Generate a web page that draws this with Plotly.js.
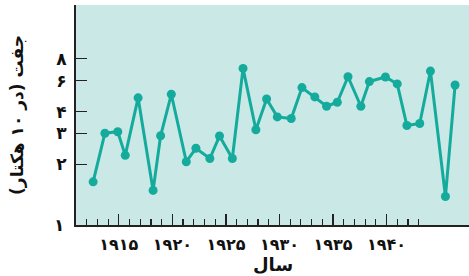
<!DOCTYPE html>
<html>
<head>
<meta charset="utf-8">
<script src="https://cdn.plot.ly/plotly-3.0.1.min.js"></script>
<style>html,body{margin:0;padding:0;background:#fff;}#chart{width:469px;height:276px;}</style>
</head>
<body>
<div id="chart"></div>
<script>
// Data (x positions as drawn, in years)
const years = [1912.6, 1913.7, 1914.9, 1915.6, 1916.8, 1918.2, 1918.9, 1919.9, 1921.3, 1922.2,
               1923.5, 1924.4, 1925.6, 1926.6, 1927.8, 1928.8, 1929.8, 1931.1, 1932.1, 1933.3,
               1934.4, 1935.4, 1936.4, 1937.6, 1938.4, 1939.9, 1941.0, 1941.9, 1943.1, 1944.1,
               1945.5, 1946.4];
const pairs = [1.59, 3.01, 3.07, 2.25, 4.79, 1.42, 2.91, 5.02, 2.07, 2.47,
               2.16, 2.90, 2.16, 7.05, 3.15, 4.72, 3.73, 3.65, 5.48, 4.85,
               4.29, 4.52, 6.32, 4.29, 5.93, 6.30, 5.75, 3.33, 3.42, 6.81,
               1.31, 5.67];
const xTickVals = [1915, 1920, 1925, 1930, 1935, 1940];
const xTickText = ['۱۹۱۵', '۱۹۲۰', '۱۹۲۵', '۱۹۳۰', '۱۹۳۵', '۱۹۴۰'];
const xMinorVals = [1912,1913,1914,1916,1917,1918,1919,1921,1922,1923,1924,1926,1927,1928,1929,
                    1931,1932,1933,1934,1936,1937,1938,1939,1941,1942,1943];
const yTickVals = [2, 3, 4, 6, 8];
const yTickText = ['۲', '۳', '۴', '۶', '۸'];
const yBaseLabel = '۱';
const xTitle = 'سال';
const yTitle = '\u200Fجفت (در ۱۰ هکتار)\u200F';

const teal = '#14ab9d';
const font = 'DejaVu Sans, sans-serif';

const trace = {
  x: years, y: pairs, type: 'scatter', mode: 'lines+markers',
  line: {color: teal, width: 3},
  marker: {color: teal, size: 9},
  hoverinfo: 'none'
};

const tf = {family: font, size: 17, color: '#111', weight: 'bold'};
const xtf = {family: font, size: 16, color: '#111', weight: 'bold'};

const layout = {
  width: 469, height: 276,
  margin: {l: 76, r: 0, t: 5, b: 51, pad: 0},
  paper_bgcolor: '#ffffff',
  plot_bgcolor: '#cae8e6',
  showlegend: false,
  font: {family: font, color: '#111', size: 14},
  xaxis: {
    range: [1911.0, 1947.7],
    tickmode: 'array', tickvals: xTickVals, ticktext: xTickText,
    ticks: 'inside', ticklen: 11, tickwidth: 1.2, tickcolor: '#222',
    tickfont: xtf, ticklabelstandoff: 4,
    showgrid: false, zeroline: false,
    showline: true, linecolor: '#222', linewidth: 2,
    minor: {tickmode: 'array', tickvals: xMinorVals, ticks: 'inside', ticklen: 6, tickwidth: 1.2, tickcolor: '#222', showgrid: false}
  },
  yaxis: {
    type: 'log',
    range: [-0.045, 1.21],
    tickmode: 'array', tickvals: yTickVals, ticktext: yTickText,
    ticks: 'inside', ticklen: 11, tickwidth: 1.2, tickcolor: '#222',
    tickfont: tf, ticklabelstandoff: 4,
    showgrid: false, zeroline: false,
    showline: true, linecolor: '#222', linewidth: 2,
    title: {text: '<b>' + yTitle + '</b>', font: {family: font, size: 17, color: '#111'}, standoff: 28}
  },
  annotations: [{
    text: yBaseLabel, xref: 'paper', yref: 'paper', x: 0, y: 0,
    xanchor: 'right', yanchor: 'middle', xshift: -10, showarrow: false,
    font: tf
  }, {
    text: '<b>' + xTitle + '</b>', xref: 'paper', yref: 'paper', x: 0.5, y: 0,
    xanchor: 'center', yanchor: 'middle', yshift: -39, showarrow: false,
    font: {family: font, size: 18, color: '#111'}
  }]
};

Plotly.newPlot('chart', [trace], layout, {displayModeBar: false, staticPlot: true});
</script>
</body>
</html>
